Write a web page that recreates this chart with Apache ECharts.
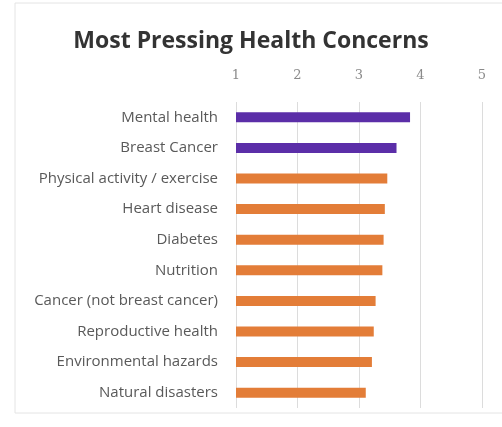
<!DOCTYPE html>
<html>
<head>
<meta charset="utf-8">
<script src="https://cdn.jsdelivr.net/npm/echarts@6/dist/echarts.min.js"></script>
<style>
  html, body { margin: 0; padding: 0; background: #ffffff; }
  #chart { width: 502px; height: 427px; }
</style>
</head>
<body>
<div id="chart"></div>
<script>
// Health concern categories, top to bottom
const categories = [
  'Mental health',
  'Breast Cancer',
  'Physical activity / exercise',
  'Heart disease',
  'Diabetes',
  'Nutrition',
  'Cancer (not breast cancer)',
  'Reproductive health',
  'Environmental hazards',
  'Natural disasters'
];
// Average rating (1–5 scale)
const ratings = [3.83, 3.61, 3.46, 3.42, 3.40, 3.38, 3.27, 3.24, 3.21, 3.11];
// Number of top concerns highlighted in purple
const highlightCount = 2;
const axisTicks = [1, 2, 3, 4, 5];

const purple = '#5b2ea8';
const orange = '#e37d38';

const chart = echarts.init(document.getElementById('chart'));
chart.setOption({
  backgroundColor: '#ffffff',
  animation: false,
  graphic: [{
    type: 'rect',
    shape: { x: 15, y: 3, width: 500, height: 410 },
    style: { fill: 'none', stroke: '#e4e4e4', lineWidth: 1 },
    silent: true
  }],
  title: {
    text: 'Most Pressing Health Concerns',
    left: 'center',
    top: 25,
    textStyle: {
      fontFamily: '"Open Sans", "DejaVu Sans", sans-serif',
      fontSize: 23,
      fontWeight: 'bold',
      color: '#333333'
    }
  },
  grid: { left: 236, right: 20, top: 102, bottom: 19 },
  xAxis: {
    type: 'value',
    position: 'top',
    min: axisTicks[0],
    max: axisTicks[axisTicks.length - 1],
    interval: 1,
    axisLine: { show: false },
    axisTick: { show: false },
    axisLabel: {
      margin: 20,
      color: '#8a8a8a',
      fontFamily: '"DejaVu Serif", serif',
      fontSize: 13
    },
    splitLine: { show: true, lineStyle: { color: '#dcdcdc', width: 1 } }
  },
  yAxis: {
    type: 'category',
    data: categories,
    inverse: true,
    axisLine: { show: false },
    axisTick: { show: false },
    axisLabel: {
      margin: 18,
      color: '#595959',
      fontFamily: '"Open Sans", sans-serif',
      fontSize: 15
    }
  },
  series: [{
    type: 'bar',
    barWidth: 10,
    data: ratings.map((v, i) => ({
      value: v,
      itemStyle: { color: i < highlightCount ? purple : orange }
    }))
  }]
});
</script>
</body>
</html>
